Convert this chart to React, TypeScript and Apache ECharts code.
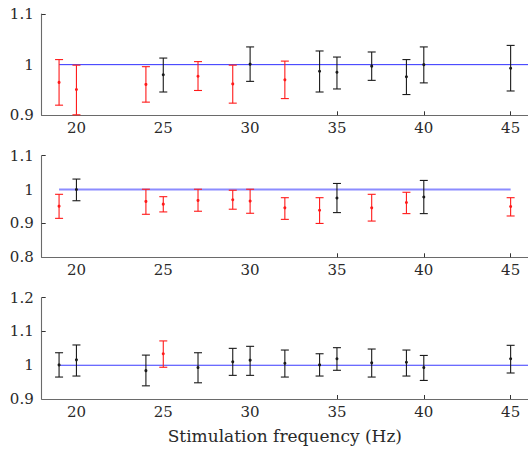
import React, { useEffect, useRef } from "react";
import * as echarts from "echarts";

// Stimulation frequencies (Hz)
const freqs = [19, 20, 24, 25, 27, 29, 30, 32, 34, 35, 37, 39, 40, 45];

// Panel 1
const p1Mean = [0.965, 0.951, 0.961, 0.98, 0.977, 0.962, 1.001, 0.97, 0.987, 0.985, 0.997, 0.976, 1.0, 0.993];
const p1Low = [0.92, 0.901, 0.926, 0.946, 0.949, 0.924, 0.967, 0.933, 0.946, 0.952, 0.969, 0.941, 0.964, 0.948];
const p1High = [1.01, 0.999, 0.996, 1.013, 1.006, 0.999, 1.035, 1.007, 1.027, 1.015, 1.025, 1.01, 1.035, 1.038];
const p1Red = [1, 1, 1, 0, 1, 1, 0, 1, 0, 0, 0, 0, 0, 0];

// Panel 2
const p2Mean = [0.951, 1.0, 0.965, 0.957, 0.968, 0.97, 0.966, 0.946, 0.939, 0.975, 0.946, 0.962, 0.978, 0.95];
const p2Low = [0.915, 0.967, 0.927, 0.934, 0.936, 0.942, 0.93, 0.912, 0.9, 0.932, 0.907, 0.929, 0.929, 0.922];
const p2High = [0.986, 1.031, 1.001, 0.979, 1.001, 0.998, 1.001, 0.976, 0.976, 1.018, 0.986, 0.992, 1.027, 0.976];
const p2Red = [1, 0, 1, 1, 1, 1, 1, 1, 1, 0, 1, 1, 0, 1];

// Panel 3
const p3Mean = [1.001, 1.016, 0.984, 1.034, 0.993, 1.01, 1.015, 1.006, 1.001, 1.019, 1.007, 1.009, 0.993, 1.019];
const p3Low = [0.965, 0.968, 0.939, 0.994, 0.948, 0.97, 0.97, 0.965, 0.968, 0.985, 0.965, 0.968, 0.955, 0.977];
const p3High = [1.037, 1.06, 1.03, 1.072, 1.037, 1.05, 1.056, 1.045, 1.034, 1.052, 1.048, 1.045, 1.029, 1.059];
const p3Red = [0, 0, 0, 1, 0, 0, 0, 0, 0, 0, 0, 0, 0, 0];

// Reference lines (ratio = 1)
const ref1 = [[19, 1], [46, 1]];
const ref2 = [[19, 1], [45, 1]];
const ref3 = [[19, 1], [46, 1]];

const xLabels = [20, 25, 30, 35, 40, 45];
const xTicks = [35, 40, 45];

const yRanges = [
  { min: 0.9, max: 1.1, ticks: [1.1] },
  { min: 0.8, max: 1.1, ticks: [1.1, 0.9] },
  { min: 0.9, max: 1.2, ticks: [1.2, 1.1] },
];

const FONT = "DejaVu Serif";

function rows(mean: number[], low: number[], high: number[], red: number[]) {
  return freqs.map((f, i) => [f, mean[i], low[i], high[i], red[i]]);
}

const renderItem = (params: any, api: any) => {
  const x = api.value(0);
  const m = api.value(1);
  const lo = api.value(2);
  const hi = api.value(3);
  const red = api.value(4);
  const pm = api.coord([x, m]);
  const pl = api.coord([x, lo]);
  const ph = api.coord([x, hi]);
  const col = red === 1 ? "#ff1a1a" : "#1a1a1a";
  const w = 4;
  const st = { stroke: col, lineWidth: 1.1 };
  return {
    type: "group",
    children: [
      { type: "line", shape: { x1: pl[0], y1: pl[1], x2: ph[0], y2: ph[1] }, style: st },
      { type: "line", shape: { x1: pl[0] - w, y1: pl[1], x2: pl[0] + w, y2: pl[1] }, style: st },
      { type: "line", shape: { x1: ph[0] - w, y1: ph[1], x2: ph[0] + w, y2: ph[1] }, style: st },
      { type: "circle", shape: { cx: pm[0], cy: pm[1], r: 1.5 }, style: { fill: col } },
    ],
  };
};

export default function App() {
  const ref = useRef<HTMLDivElement>(null);
  useEffect(() => {
    if (!ref.current) return;
    const chart = echarts.init(ref.current, null, { renderer: "svg" });
    const grids = [
      { left: 41.7, top: 14, width: 489.8, height: 101.3 },
      { left: 41.7, top: 155.7, width: 489.8, height: 101.6 },
      { left: 41.7, top: 297.7, width: 489.8, height: 101.3 },
    ];
    const axisLine = { show: true, lineStyle: { color: "#6a6a6a", width: 1.1 } };
    const xAxis = grids.map((_, i) => ({
      type: "value",
      gridIndex: i,
      min: 18,
      max: 46,
      axisLine,
      splitLine: { show: false },
      axisTick: { show: true, inside: true, length: 4, customValues: xTicks, lineStyle: { color: "#333" } },
      axisLabel: { customValues: xLabels, fontFamily: FONT, fontSize: 15, color: "#2a2a2a", margin: 5 },
      name: i === 2 ? "Stimulation frequency (Hz)" : "",
      nameLocation: "middle",
      nameGap: 28,
      nameTextStyle: { fontFamily: FONT, fontSize: 17, color: "#2a2a2a" },
    }));
    const yAxis = yRanges.map((r, i) => ({
      type: "value",
      gridIndex: i,
      min: r.min,
      max: r.max,
      interval: 0.1,
      axisLine,
      splitLine: { show: false },
      axisTick: { show: true, inside: true, length: 4, customValues: r.ticks, lineStyle: { color: "#333" } },
      axisLabel: { fontFamily: FONT, fontSize: 15, color: "#2a2a2a", margin: 8 },
    }));
    const panels = [
      { data: rows(p1Mean, p1Low, p1High, p1Red), ref: ref1, color: "#2f2fff", width: 1 },
      { data: rows(p2Mean, p2Low, p2High, p2Red), ref: ref2, color: "#8c8cff", width: 2 },
      { data: rows(p3Mean, p3Low, p3High, p3Red), ref: ref3, color: "#3a3aff", width: 1.2 },
    ];
    const series: any[] = [];
    panels.forEach((p, i) => {
      series.push({
        type: "line",
        xAxisIndex: i,
        yAxisIndex: i,
        data: p.ref,
        showSymbol: false,
        symbol: "none",
        lineStyle: { color: p.color, width: p.width },
        silent: true,
        z: 1,
      });
      series.push({
        type: "custom",
        xAxisIndex: i,
        yAxisIndex: i,
        data: p.data,
        encode: { x: 0, y: 1 },
        renderItem,
        clip: false,
        z: 2,
      });
    });
    chart.setOption({
      animation: false,
      backgroundColor: "#ffffff",
      grid: grids,
      xAxis,
      yAxis,
      series,
    });
    return () => chart.dispose();
  }, []);
  return (
    <div
      ref={ref}
      style={{ position: "fixed", left: 0, top: 0, width: 528, height: 455, background: "#fff" }}
    />
  );
}
